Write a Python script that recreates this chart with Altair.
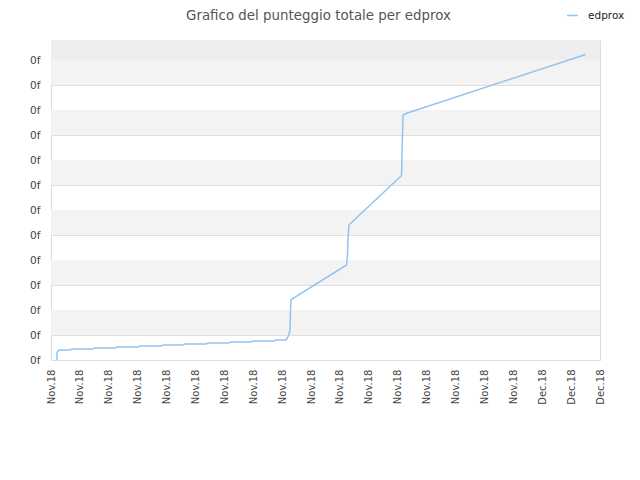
import altair as alt
import pandas as pd

# ---- data ----
series_name = "edprox"
# days since 2018-11-01 (UTC) and total score (in gridline units; y labels are shown as "0f")
day_values = [0.374, 0.374, 0.436, 0.53, 1.18, 1.31, 2.62, 2.74, 3.99, 4.11, 5.42, 5.54,
              6.85, 6.98, 8.22, 8.35, 9.66, 9.78, 11.09, 11.21, 12.46, 12.58, 13.89, 14.02,
              14.64, 14.79, 14.89, 14.92, 14.95, 15.01, 18.41, 18.47, 18.50, 18.56, 18.69,
              21.84, 21.87, 21.93, 22.11, 33.30]
score_values = [0.0, 0.28, 0.36, 0.40, 0.40, 0.44, 0.44, 0.48, 0.48, 0.52, 0.52, 0.56,
                0.56, 0.60, 0.60, 0.64, 0.64, 0.68, 0.68, 0.72, 0.72, 0.76, 0.76, 0.80,
                0.80, 0.96, 1.2, 2.0, 2.4, 2.44, 3.8, 4.2, 4.8, 5.4, 5.48,
                7.38, 8.4, 9.8, 9.86, 12.22]
y_tick_values = list(range(0, 13))
y_tick_label = "0f"
x_tick_format = "%b.%y"
band_lo = [1, 3, 5, 7, 9, 11, 12]
band_hi = [2, 4, 6, 8, 10, 12, 12.8]
band_shade = ["a", "a", "a", "a", "a", "a", "b"]

start = pd.Timestamp("2018-11-01T00:00:00Z")
span_days = 34.2
n_ticks = 20

df = pd.DataFrame({
    "t": [start + pd.Timedelta(days=d) for d in day_values],
    "score": score_values,
    "series": series_name,
})
df["t"] = df["t"].dt.strftime("%Y-%m-%dT%H:%M:%SZ")

bands = pd.DataFrame({"lo": band_lo, "hi": band_hi, "shade": band_shade})

t0_ms = int(start.value // 10**6)
t1_ms = int((start + pd.Timedelta(days=span_days)).value // 10**6)
tick_ms = [t0_ms + (t1_ms - t0_ms) * k / (n_ticks - 1) for k in range(n_ticks)]

font = "DejaVu Sans"

x_scale = alt.Scale(type="utc", domain=[t0_ms, t1_ms], nice=False)
y_scale = alt.Scale(domain=[0, 12.8], nice=False, zero=False)

y_axis = alt.Axis(values=y_tick_values, labelExpr="'" + y_tick_label + "'",
                  grid=True, gridColor="#dfdfdf", ticks=False, domain=False,
                  labelPadding=11, labelFontSize=10.5, labelFont=font, labelColor="#444")

band_layer = alt.Chart(bands).mark_rect().encode(
    x=alt.value(0),
    x2=alt.value(549),
    y=alt.Y("lo:Q", scale=y_scale, title=None, axis=y_axis),
    y2="hi:Q",
    color=alt.Color("shade:N", scale=alt.Scale(domain=["a", "b"], range=["#f3f3f3", "#eeeeee"]), legend=None),
)

line_layer = alt.Chart(df).mark_line(strokeWidth=1.5, interpolate="linear").encode(
    x=alt.X("t:T", scale=x_scale, title=None,
            axis=alt.Axis(values=tick_ms, labelExpr="utcFormat(datum.value, '" + x_tick_format + "')",
                          labelAngle=270, grid=False, ticks=False, domain=False, labelPadding=9,
                          labelFontSize=10, labelFont=font, labelColor="#444")),
    y=alt.Y("score:Q", scale=y_scale, title=None, axis=y_axis),
    color=alt.Color("series:N", scale=alt.Scale(range=["#92c3f2"]),
                    legend=alt.Legend(title=None, orient="none", legendX=515, legendY=-31,
                                      symbolType="stroke", symbolStrokeWidth=1.5, symbolSize=120,
                                      labelOffset=9,
                                      labelFont=font, labelFontSize=10.5, labelColor="#222")),
)

chart = alt.layer(band_layer, line_layer).resolve_scale(color="independent").properties(
    width=549,
    height=320,
    padding={"left": 43, "top": 32, "right": 32, "bottom": 100},
    autosize=alt.AutoSizeParams(type="none"),
    title=alt.TitleParams("Grafico del punteggio totale per edprox", font=font, fontSize=13.4,
                          fontWeight="normal", color="#555", anchor="middle", frame="group",
                          offset=8, dx=-7, dy=21),
).configure_view(stroke="#dcdcdc")

chart.save("out.html", embed_options={"renderer": "svg", "actions": False})
